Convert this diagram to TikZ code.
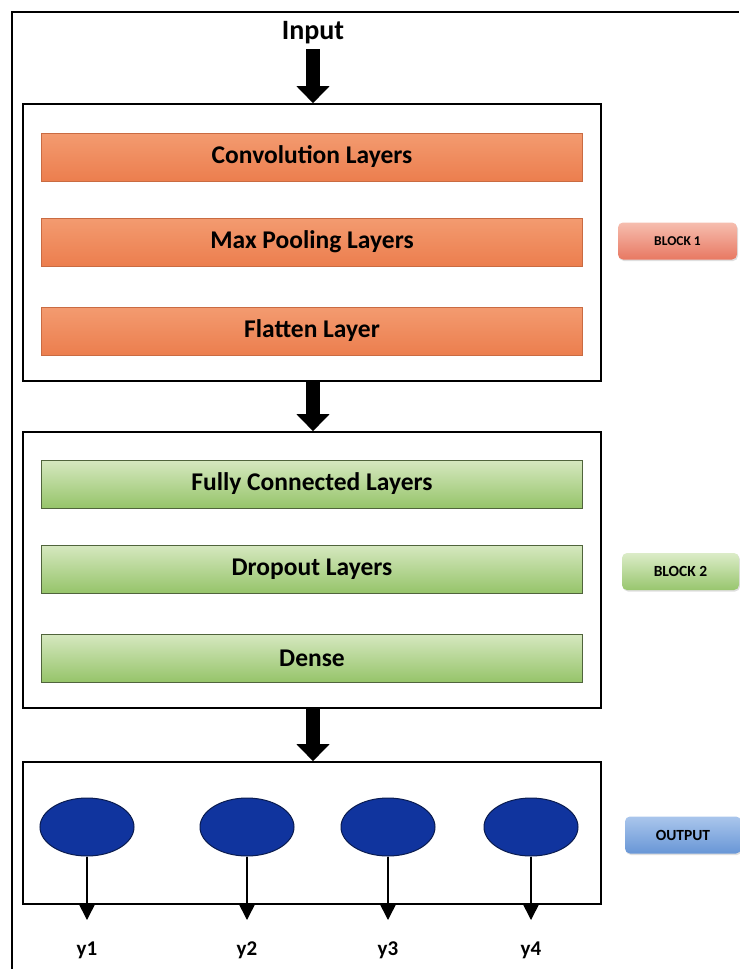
\documentclass[tikz,border=0pt]{standalone}
\usepackage{fontspec}
\setmainfont{Carlito}
\usetikzlibrary{arrows.meta,shadows,shapes.geometric}
\definecolor{orTop}{RGB}{243,155,112}
\definecolor{orBot}{RGB}{236,126,78}
\definecolor{grTop}{RGB}{214,232,192}
\definecolor{grBot}{RGB}{150,196,106}
\definecolor{grLine}{RGB}{80,100,60}
\definecolor{b1Top}{RGB}{246,190,175}
\definecolor{b1Bot}{RGB}{232,120,98}
\definecolor{b2Top}{RGB}{220,236,200}
\definecolor{b2Bot}{RGB}{152,198,110}
\definecolor{b3Top}{RGB}{170,198,236}
\definecolor{b3Bot}{RGB}{104,150,214}
\definecolor{dotFill}{RGB}{16,52,158}
\definecolor{dotLine}{RGB}{10,28,80}
\tikzset{
  blockbox/.style={draw=black, line width=1.6pt, minimum width=578pt, inner sep=0pt},
  layerbar/.style={minimum width=541pt, minimum height=48pt, inner sep=0pt,
     font=\fontsize{25.5}{29}\selectfont\bfseries},
  orbar/.style={layerbar, top color=orTop, bottom color=orBot, draw=orBot!85!black, line width=0.4pt},
  grbar/.style={layerbar, top color=grTop, bottom color=grBot, draw=grLine, line width=0.8pt},
  tagbox/.style={rounded corners=5pt, minimum height=37pt, inner sep=0pt,
     font=\fontsize{15.5}{18}\selectfont\bfseries, drop shadow={opacity=0.25, shadow xshift=1pt, shadow yshift=-1.5pt}},
  bigarrow/.style={line width=14pt, -{Triangle[width=32pt,length=17pt]}},
  outdot/.style={ellipse, fill=dotFill, draw=dotLine, line width=1pt, minimum width=94pt, minimum height=58pt, inner sep=0pt},
  thinarrow/.style={line width=1.5pt, -{Triangle[width=15pt,length=15pt]}},
  ylabel/.style={font=\fontsize{21}{24}\selectfont\bfseries, inner sep=0pt},
}
\begin{document}
\begin{tikzpicture}[x=1pt,y=-1pt]
\useasboundingbox (0,0) rectangle (739,969);
\fill[white] (0,0) rectangle (739,969);
% outer frame (right and bottom edges lie outside the picture)
\draw[line width=2.6pt] (12,969) -- (12,12) -- (739,12);

% input
\node[font=\fontsize{28}{32}\selectfont\bfseries, inner sep=1pt] (input) at (313,33) {Input};

% block 1
\node[blockbox, minimum height=277pt] (b1) at (312,242.5) {};
\node[orbar] (conv) at (312,157) {Convolution Layers};
\node[orbar] (pool) at (312,242) {Max Pooling Layers};
\node[orbar] (flat) at (312,331) {Flatten Layer};
\node[tagbox, minimum width=119pt, top color=b1Top, bottom color=b1Bot, font=\fontsize{13.5}{16}\selectfont\bfseries] (t1) at (677.5,241) {BLOCK 1};

% block 2
\node[blockbox, minimum height=276pt] (b2) at (312,570) {};
\node[grbar] (fc) at (312,484) {Fully Connected Layers};
\node[grbar] (drop) at (312,569) {Dropout Layers};
\node[grbar] (dense) at (312,658) {Dense};
\node[tagbox, minimum width=117pt, top color=b2Top, bottom color=b2Bot] (t2) at (680.5,571.5) {BLOCK 2};

% block 3
\node[blockbox, minimum height=142pt] (b3) at (312,833) {};
\node[outdot] (e1) at (87,827) {};
\node[outdot] (e2) at (247,827) {};
\node[outdot] (e3) at (388,827) {};
\node[outdot] (e4) at (531,827) {};
\node[tagbox, minimum width=116pt, top color=b3Top, bottom color=b3Bot] (t3) at (683,835) {OUTPUT};

% big arrows
\draw[bigarrow, shorten <=4pt] (input.south) -- (b1.north -| input.south);
\draw[bigarrow] (b1.south -| input.south) -- (b2.north -| input.south);
\draw[bigarrow] (b2.south -| input.south) -- (b3.north -| input.south);

% outputs
\coordinate (o1) at (87,920);
\coordinate (o2) at (247,920);
\coordinate (o3) at (388,920);
\coordinate (o4) at (531,920);
\draw[thinarrow] (e1.south) -- (o1);
\draw[thinarrow] (e2.south) -- (o2);
\draw[thinarrow] (e3.south) -- (o3);
\draw[thinarrow] (e4.south) -- (o4);
\node[ylabel] (y1) at (87,950) {y1};
\node[ylabel] (y2) at (247,950) {y2};
\node[ylabel] (y3) at (388,950) {y3};
\node[ylabel] (y4) at (531,950) {y4};
\end{tikzpicture}
\end{document}
